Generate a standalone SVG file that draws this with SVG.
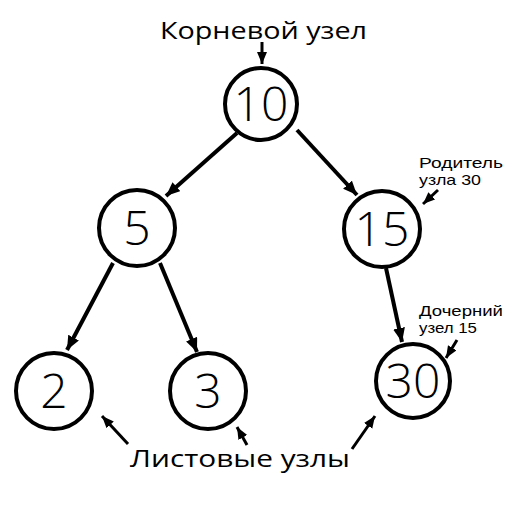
<svg xmlns="http://www.w3.org/2000/svg" width="512" height="512" viewBox="0 0 512 512">
<style>
.node circle{fill:#fff;stroke:#000;stroke-width:4}
.node text{font-family:"Open Sans","Liberation Sans",sans-serif;font-size:48px;font-weight:300;text-anchor:middle;fill:#000}
.conn line{stroke:#000;stroke-width:4;marker-end:url(#ah)}
.ann line{stroke:#000;stroke-width:3;marker-end:url(#ah2)}
.lbl{font-family:"Open Sans","Liberation Sans",sans-serif;fill:#000}
.sm{font-family:"Liberation Sans",sans-serif;font-size:15px;fill:#000}
</style>
<defs>
<marker id="ah" markerUnits="userSpaceOnUse" markerWidth="16" markerHeight="14" refX="14" refY="6" orient="auto">
<path d="M0,0 L14,6 L0,12 Z" fill="#000"/>
</marker>
<marker id="ah2" markerUnits="userSpaceOnUse" markerWidth="14" markerHeight="12" refX="12" refY="5" orient="auto">
<path d="M0,0 L12,5 L0,10 Z" fill="#000"/>
</marker>
</defs>
<rect width="512" height="512" fill="#fff"/>
<g id="connectors" class="conn">
<line x1="237" y1="133" x2="166" y2="196"/>
<line x1="297" y1="130" x2="357" y2="195"/>
<line x1="113" y1="263" x2="67" y2="350"/>
<line x1="160" y1="263" x2="197" y2="352"/>
<line x1="386" y1="268" x2="402" y2="342"/>
</g>
<g id="annotations" class="ann">
<line x1="262" y1="42" x2="262" y2="64"/>
<line x1="438" y1="190" x2="423" y2="204"/>
<line x1="457" y1="340" x2="446" y2="358"/>
<line x1="128" y1="444" x2="102" y2="416"/>
<line x1="247" y1="445" x2="237" y2="427"/>
<line x1="352" y1="449" x2="375" y2="416"/>
</g>
<g id="n10" class="node"><circle cx="261" cy="104" r="36"/><text x="261" y="121">10</text></g>
<g id="n5" class="node"><circle cx="137" cy="228" r="38"/><text x="137" y="245">5</text></g>
<g id="n15" class="node"><circle cx="382" cy="229" r="38"/><text x="382" y="246">15</text></g>
<g id="n2" class="node"><circle cx="54" cy="391" r="38"/><text x="54" y="408">2</text></g>
<g id="n3" class="node"><circle cx="208" cy="391" r="38"/><text x="208" y="408">3</text></g>
<g id="n30" class="node"><circle cx="413" cy="381" r="37"/><text x="413" y="398">30</text></g>
<g id="labels">
<text class="lbl" x="160" y="39" font-size="23" textLength="207" lengthAdjust="spacingAndGlyphs">Корневой узел</text>
<text class="lbl" x="130" y="467" font-size="23" textLength="220" lengthAdjust="spacingAndGlyphs">Листовые узлы</text>
<text class="sm" x="419" y="168" textLength="84" lengthAdjust="spacingAndGlyphs">Родитель</text>
<text class="sm" x="419" y="185" textLength="62" lengthAdjust="spacingAndGlyphs">узла 30</text>
<text class="sm" x="419" y="316" textLength="84" lengthAdjust="spacingAndGlyphs">Дочерний</text>
<text class="sm" x="419" y="333" textLength="58" lengthAdjust="spacingAndGlyphs">узел 15</text>
</g>
</svg>
